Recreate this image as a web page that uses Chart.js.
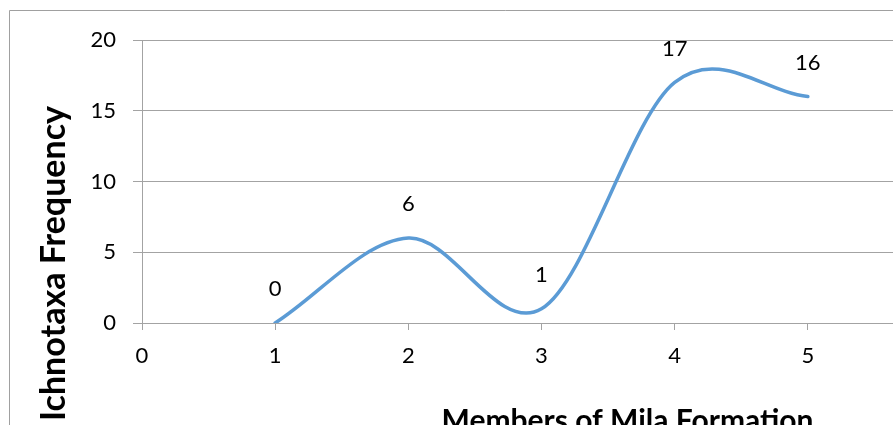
<!DOCTYPE html>
<html>
<head>
<meta charset="utf-8">
<script src="https://cdn.jsdelivr.net/npm/chart.js@4.4.0/dist/chart.umd.min.js"></script>
<style>
  html, body { margin: 0; padding: 0; background: #ffffff; overflow: hidden; }
  #wrap { position: absolute; left: 0; top: 0; width: 1000px; height: 425px; }
</style>
</head>
<body>
<div id="wrap"><canvas id="c" width="1000" height="425"></canvas></div>
<script>
// ---- data ----
const members = [1, 2, 3, 4, 5];
const frequency = [0, 6, 1, 17, 16];
const xTitle = 'Members of Mila Formation';
const yTitle = 'Ichnotaxa Frequency';
const xMin = 0, xMax = 6, xStep = 1;
const yMin = 0, yMax = 20, yStep = 5;

const FONT = 'Lato, "Open Sans", sans-serif';
const GRID = '#a3a3a3';

const frame = {
  id: 'frame',
  beforeDraw(chart) {
    const ctx = chart.ctx;
    ctx.save();
    ctx.fillStyle = '#ffffff';
    ctx.fillRect(0, 0, chart.width, chart.height);
    ctx.strokeStyle = '#a0a0a0';
    ctx.lineWidth = 1;
    ctx.beginPath();
    ctx.moveTo(9.5, chart.height + 5);
    ctx.lineTo(9.5, 10.5);
    ctx.lineTo(chart.width + 5, 10.5);
    ctx.stroke();
    ctx.restore();
  }
};

// Excel-like smoothing (uniform Catmull-Rom control points) applied to the
// pixel positions that Chart.js computed for the data points.
const excelSmooth = {
  id: 'excelSmooth',
  beforeDatasetsDraw(chart) {
    const meta = chart.getDatasetMeta(0);
    const pts = meta.data;
    const n = pts.length;
    for (let i = 0; i < n; i++) {
      const p = pts[i], prev = pts[i - 1], next = pts[i + 1];
      if (prev && next) {
        const dx = (next.x - prev.x) / 6, dy = (next.y - prev.y) / 6;
        p.cp1x = p.x - dx; p.cp1y = p.y - dy;
        p.cp2x = p.x + dx; p.cp2y = p.y + dy;
      } else if (next) {
        p.cp1x = p.x; p.cp1y = p.y;
        p.cp2x = p.x + (next.x - p.x) / 3; p.cp2y = p.y + (next.y - p.y) / 3;
      } else if (prev) {
        p.cp1x = p.x - (p.x - prev.x) / 3; p.cp1y = p.y - (p.y - prev.y) / 3;
        p.cp2x = p.x; p.cp2y = p.y;
      }
    }
    meta.dataset._pointsUpdated = true;
  }
};

const labelsAndTitles = {
  id: 'labelsAndTitles',
  afterDatasetsDraw(chart) {
    const ctx = chart.ctx;
    const meta = chart.getDatasetMeta(0);
    ctx.save();
    ctx.fillStyle = '#000000';
    ctx.font = '22px ' + FONT;
    ctx.textAlign = 'center';
    ctx.textBaseline = 'middle';
    meta.data.forEach((pt, i) => {
      ctx.fillText(String(frequency[i]), pt.x, pt.y - 34);
    });
    // axis titles
    ctx.font = 'bold 30px ' + FONT;
    ctx.textBaseline = 'alphabetic';
    ctx.fillText(xTitle, 627.5, 431);
    ctx.translate(65, 263.5);
    ctx.rotate(-Math.PI / 2);
    ctx.font = 'bold 34px ' + FONT;
    ctx.fillText(yTitle, 0, 0);
    ctx.restore();
  }
};

new Chart(document.getElementById('c'), {
  type: 'line',
  data: {
    datasets: [{
      data: members.map((m, i) => ({ x: m, y: frequency[i] })),
      borderColor: '#5B9BD5',
      borderWidth: 3.5,
      borderCapStyle: 'round',
      borderJoinStyle: 'round',
      pointRadius: 0,
      fill: false,
      tension: 0.5,
      cubicInterpolationMode: 'default'
    }]
  },
  plugins: [frame, excelSmooth, labelsAndTitles],
  options: {
    responsive: false,
    animation: false,
    devicePixelRatio: 1,
    layout: { padding: { top: 40, right: 59, bottom: 0, left: 0 } },
    plugins: { legend: { display: false }, tooltip: { enabled: false }, title: { display: false } },
    scales: {
      x: {
        type: 'linear',
        position: 'bottom',
        min: xMin, max: xMax,
        ticks: { stepSize: xStep, color: '#000', font: { family: FONT, size: 22 }, padding: 13, maxRotation: 0 },
        grid: { drawOnChartArea: false, drawTicks: true, tickLength: 7, color: GRID, lineWidth: 1 },
        border: { display: true, color: GRID, width: 1 },
        afterFit(scale) { scale.height = 102; }
      },
      y: {
        min: yMin, max: yMax,
        ticks: { stepSize: yStep, color: '#000', font: { family: FONT, size: 22 }, padding: 17 },
        grid: { drawOnChartArea: true, drawTicks: true, tickLength: 9, color: GRID, lineWidth: 1 },
        border: { display: true, color: GRID, width: 1 },
        afterFit(scale) { scale.width = 142; }
      }
    }
  }
});
</script>
</body>
</html>
